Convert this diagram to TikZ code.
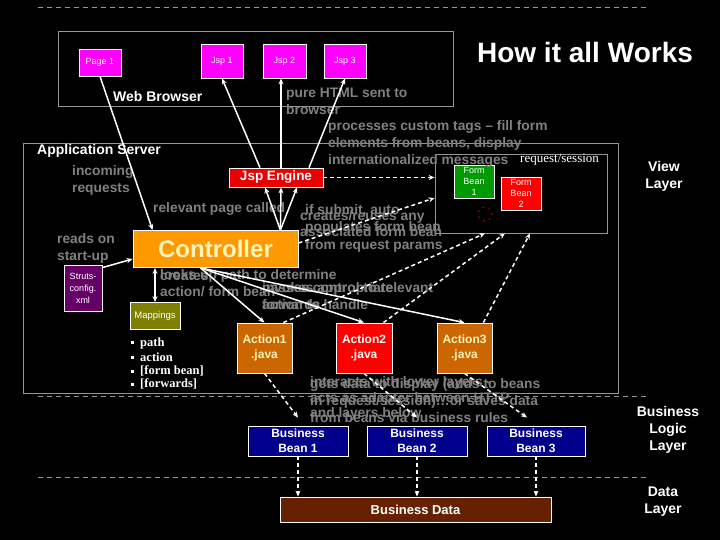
\documentclass[tikz,border=0pt]{standalone}
\usepackage{fontspec}
\setmainfont{Liberation Sans}
\newfontfamily\timesfont{Liberation Serif}
\usepackage{xcolor}
\usetikzlibrary{arrows.meta,positioning}

\definecolor{slidegray}{RGB}{128,128,128}
\definecolor{framegray}{RGB}{150,150,150}
\definecolor{jspmag}{RGB}{255,0,255}
\definecolor{engred}{RGB}{235,0,0}
\definecolor{ctrlorange}{RGB}{255,153,0}
\definecolor{ctrltext}{RGB}{255,245,190}
\definecolor{strutpurple}{RGB}{102,0,102}
\definecolor{mapolive}{RGB}{128,128,0}
\definecolor{actbrown}{RGB}{204,102,0}
\definecolor{beangreen}{RGB}{0,153,0}
\definecolor{bizblue}{RGB}{0,0,140}
\definecolor{databrown}{RGB}{102,34,0}
\definecolor{dotred}{RGB}{140,0,0}

\begin{document}
\begin{tikzpicture}[x=1pt, y=-1pt,
  box/.style={draw=white, line width=0.8pt, inner sep=0pt, align=center, text=white},
  smallbox/.style={box, font=\fontsize{9}{11}\selectfont},
  boldbox/.style={box, font=\fontsize{12}{15}\selectfont\bfseries},
  note/.style={anchor=west, inner sep=0pt, text=slidegray, text height=10pt, text depth=2.5pt,
    font=\fontsize{13.8}{15}\selectfont\bfseries},
  lyrtext/.style={inner sep=0pt, text=white, text height=10pt, text depth=2.5pt,
    font=\fontsize{14}{15}\selectfont\bfseries},
  wire/.style={white, line width=1.5pt, -{Stealth[length=6pt,width=5pt]}},
  dwire/.style={wire, dash pattern=on 4pt off 3pt},
  areabox/.style={draw=framegray, line width=0.8pt},
  layerline/.style={framegray, line width=0.8pt, dash pattern=on 5pt off 4pt}]
  \useasboundingbox[fill=black] (0,0) rectangle (720,540);
  % Layer separators
  \draw[layerline] (38,7) -- (650,7);
  \draw[layerline] (38,396) -- (650,396);
  \draw[layerline] (38,477) -- (650,477);
  % Areas
  \draw[areabox] (58,31) rectangle (453,106);
  \draw[areabox] (23,143) rectangle (618,393);
  \node[areabox, minimum width=172pt, minimum height=79pt, inner sep=0pt] (reqsess) at (521,193.5) {};
  % Web browser
  \node[smallbox, fill=jspmag, minimum width=42pt, minimum height=27pt] (page1) at (100,62.5) {Page 1};
  \node[smallbox, fill=jspmag, minimum width=42pt, minimum height=34pt] (jsp1) at (222,61) {Jsp 1};
  \node[smallbox, fill=jspmag, minimum width=43pt, minimum height=34pt] (jsp2) at (284.5,61) {Jsp 2};
  \node[smallbox, fill=jspmag, minimum width=42pt, minimum height=34pt] (jsp3) at (345,61) {Jsp 3};
  \node[lyrtext, anchor=west] (browser) at (113,98) {Web Browser};
  \node[inner sep=0pt, text=white, font=\fontsize{28}{30}\selectfont\bfseries] (title) at (585,52) {How it all Works};
  % Application server
  \node[lyrtext, anchor=west] (appsrv) at (37,151) {Application Server};
  \node[boldbox, fill=engred, font=\fontsize{13.5}{15}\selectfont\bfseries, minimum width=94pt, minimum height=19pt] (jspeng) at (276,177.5) {Jsp Engine};
  \node[box, fill=ctrlorange, text=ctrltext, font=\fontsize{24}{26}\selectfont\bfseries, minimum width=165pt, minimum height=37pt] (controller) at (215.5,249) {Controller};
  \node[smallbox, fill=strutpurple, font=\fontsize{9}{12}\selectfont, minimum width=38pt, minimum height=46pt] (struts) at (83,288) {Struts-\\config.\\xml};
  \node[smallbox, fill=mapolive, font=\fontsize{9.5}{12}\selectfont, minimum width=50pt, minimum height=27pt] (mappings) at (155,316) {Mappings};
  \node[boldbox, fill=actbrown, text=ctrltext, minimum width=55pt, minimum height=50pt] (act1) at (264.5,348) {Action1\\.java};
  \node[boldbox, fill=red, minimum width=56pt, minimum height=50pt] (act2) at (364,348) {Action2\\.java};
  \node[boldbox, fill=actbrown, text=ctrltext, minimum width=55pt, minimum height=50pt] (act3) at (464.5,348) {Action3\\.java};
  \node[smallbox, fill=beangreen, minimum width=40pt, minimum height=33pt] (fb1) at (474,181.5) {Form\\Bean\\1};
  \node[smallbox, fill=red, minimum width=40pt, minimum height=33pt] (fb2) at (521,193.5) {Form\\Bean\\2};
  \node[inner sep=0pt, text=white, font=\fontsize{13}{15}\timesfont\selectfont, anchor=west] (reqlabel) at (520,160) {request/session};
  \draw[dotred, line width=2.2pt, line cap=round, dash pattern=on 0.1pt off 6.2pt] (485,214) circle[radius=7pt];
  % Mapping entries
  \foreach \entry/\ypos in {path/343, action/357, [form bean]/371, [forwards]/384}
    \node[inner sep=0pt, anchor=west, text=white, font=\fontsize{12.5}{14}\timesfont\bfseries] (map-\ypos) at (131,\ypos)
      {\rule[2pt]{3pt}{3pt}\hspace{6pt}\entry};
  % Business logic and data
  \node[boldbox, fill=bizblue, minimum width=100pt, minimum height=30pt] (bb1) at (298,441) {Business\\Bean 1};
  \node[boldbox, fill=bizblue, minimum width=100pt, minimum height=30pt] (bb2) at (417,441) {Business\\Bean 2};
  \node[boldbox, fill=bizblue, minimum width=98pt, minimum height=30pt] (bb3) at (536,441) {Business\\Bean 3};
  \node[boldbox, fill=databrown, font=\fontsize{13}{15}\selectfont\bfseries, minimum width=271pt, minimum height=25pt] (bdata) at (415.5,509.5) {Business Data};
  % Layer names
  \node[lyrtext] (viewA) at (664,168) {View};
  \node[lyrtext] (viewB) at (664,185) {Layer};
  \node[lyrtext] (logicA) at (668,413) {Business};
  \node[lyrtext] (logicB) at (668,430) {Logic};
  \node[lyrtext] (logicC) at (668,447) {Layer};
  \node[lyrtext] (dataA) at (663,493) {Data};
  \node[lyrtext] (dataB) at (663,510) {Layer};
  % Notes
  \node[note] (htmlA) at (286,94) {pure HTML sent to};
  \node[note] (htmlB) at (286,111) {browser};
  \node[note] (tagsA) at (328,127) {processes custom tags -- fill form};
  \node[note] (tagsB) at (328,144) {elements from beans, display};
  \node[note] (tagsC) at (328,161) {internationalized messages};
  \node[note] (incA) at (72,172) {incoming};
  \node[note] (incB) at (72,189) {requests};
  \node[note] (called) at (153,209) {relevant page called};
  \node[note] (autoA) at (305,211) {if submit, auto};
  \node[note] (autoB) at (305,228) {populates form bean};
  \node[note] (autoC) at (305,246) {from request params};
  \node[note] (reuseA) at (300,217) {creates/reuses any};
  \node[note] (reuseB) at (300,233) {associated form bean};
  \node[note] (readsA) at (57,240) {reads on};
  \node[note] (readsB) at (57,257) {start-up};
  \node[note] (lookA) at (160,276) {looks up path to determine};
  \node[note] (lookB) at (160,293) {action/ form bean};
  \node[note] (creates) at (160,277) {creates};
  \node[note] (invokeA) at (262,289) {invokes appropriate};
  \node[note] (invokeB) at (262,306) {action to handle};
  \node[note] (passA) at (262,289) {passes control to relevant};
  \node[note] (passB) at (262,306) {forwards};
  \node[note] (lowerA) at (310,383) {interacts with lower layers -};
  \node[note] (lowerB) at (310,399) {acts as adapter between HTTP};
  \node[note] (lowerC) at (310,414) {and layers below};
  \node[note] (getsA) at (310,385) {gets data to display (adds to beans};
  \node[note] (getsB) at (310,402) {in request/session)\dots or saves data};
  \node[note] (getsC) at (310,419) {from beans via business rules};
  % Solid connectors
  \draw[wire] (page1.south) -- ([xshift=20pt]controller.north west);
  \draw[wire] ([xshift=-16pt]jspeng.north) -- (jsp1.south);
  \draw[wire] ([xshift=5pt]jspeng.north) -- ([xshift=-3.5pt]jsp2.south);
  \draw[wire] ([xshift=33pt]jspeng.north) -- (jsp3.south);
  \foreach \dx in {-11,5,21}
    \draw[wire] ([xshift=-18pt]controller.north east) -- ([xshift=\dx pt]jspeng.south);
  \draw[wire] ([yshift=-3pt]struts.north east) -- ([yshift=-10pt]controller.west);
  \draw[wire, {Stealth[length=6pt,width=5pt]}-{Stealth[length=6pt,width=5pt]}]
    ([xshift=-60.5pt]controller.south) -- (mappings.north);
  \foreach \act in {act1,act2,act3}
    \draw[wire] ([xshift=-15pt]controller.south) -- (\act.north);
  % Dashed connectors
  \draw[dwire] (jspeng.east) -- (jspeng.east -| reqsess.west);
  \draw[dwire] ([yshift=6pt]controller.east) -- ([yshift=-4.5pt]reqsess.west);
  \draw[dwire] ([xshift=-9pt]act1.north east) -- ([xshift=-36pt]reqsess.south);
  \draw[dwire] ([xshift=-9pt]act2.north east) -- ([xshift=-16pt]reqsess.south);
  \draw[dwire] ([xshift=-9pt]act3.north east) -- ([xshift=9pt]reqsess.south);
  \draw[dwire] (act1.south) -- ([yshift=8pt]bb1.north);
  \draw[dwire] (act2.south) -- ([yshift=8pt]bb2.north);
  \draw[dwire] (act3.south) -- ([xshift=-9pt,yshift=8pt]bb3.north);
  \foreach \bb in {bb1,bb2,bb3}
    \draw[dwire] (\bb.south) -- (\bb.south |- bdata.north);
\end{tikzpicture}
\end{document}
